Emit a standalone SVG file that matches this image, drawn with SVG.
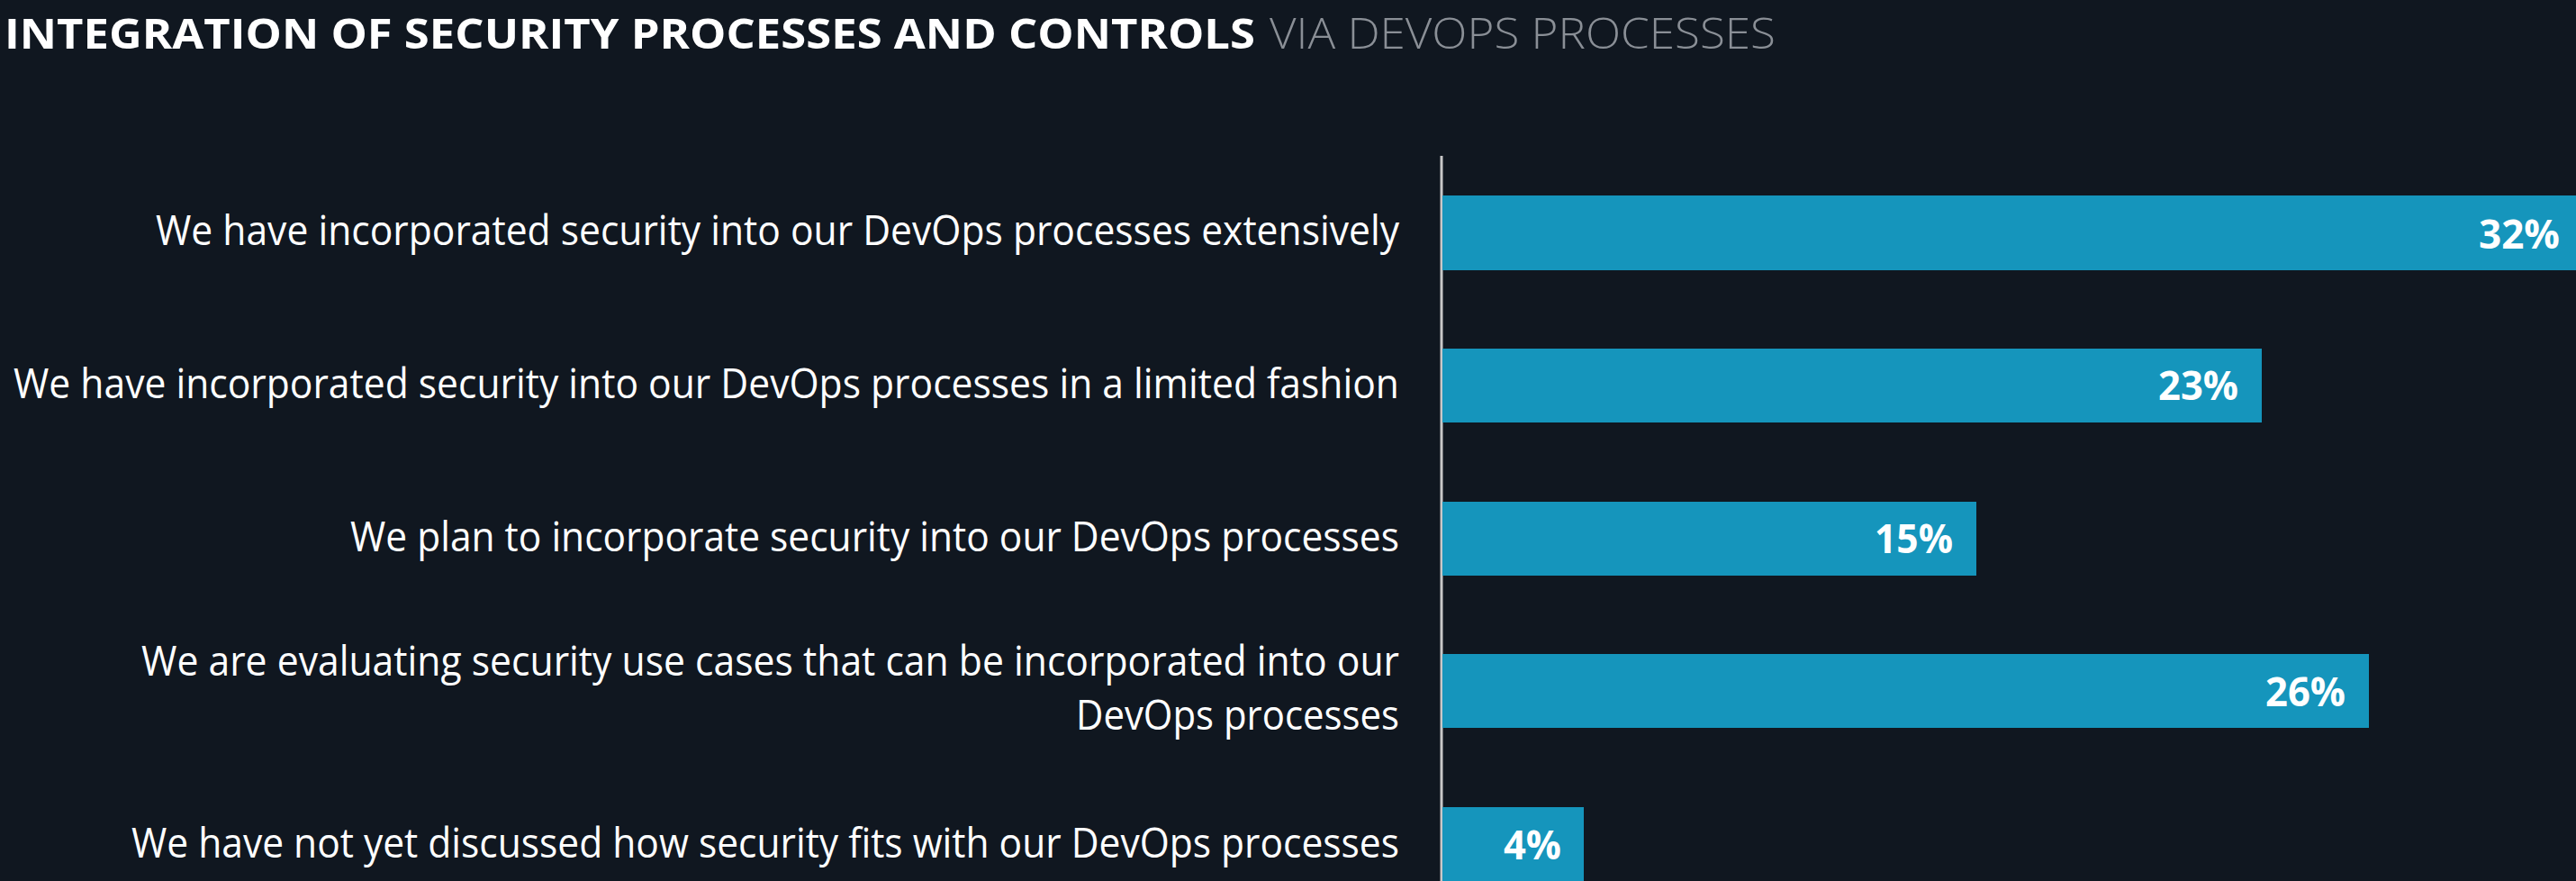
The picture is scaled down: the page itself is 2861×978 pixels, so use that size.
<svg xmlns="http://www.w3.org/2000/svg" width="2861" height="978" viewBox="0 0 2861 978">
  <style>
    .title { font-family: "Open Sans", "Noto Sans", "Liberation Sans", sans-serif; font-size: 47px; font-weight: 700; fill: #ffffff; }
    .subtitle { font-family: "Open Sans", "Noto Sans", "Liberation Sans", sans-serif; font-size: 47px; font-weight: 300; fill: #8a8f96; }
    .cat { font-family: "Open Sans", "Noto Sans", "Liberation Sans", sans-serif; font-size: 46px; font-weight: 400; fill: #ffffff; text-anchor: end; }
    .val { font-family: "Open Sans", "Noto Sans", "Liberation Sans", sans-serif; font-size: 44px; font-weight: 700; fill: #ffffff; text-anchor: end; }
    .bar { fill: #1595bc; }
    .axis { stroke: #c8c8c8; stroke-width: 3; }
  </style>
  <rect x="0" y="0" width="2861" height="978" fill="#101720"/>

  <!-- heading -->
  <g id="heading">
    <text class="title" x="5" y="54" textLength="1389" lengthAdjust="spacingAndGlyphs">INTEGRATION OF SECURITY PROCESSES AND CONTROLS</text>
    <text class="subtitle" x="1410" y="54" textLength="562" lengthAdjust="spacingAndGlyphs">VIA DEVOPS PROCESSES</text>
  </g>

  <!-- category axis -->
  <g id="axis">
    <line class="axis" x1="1601" y1="173" x2="1601" y2="978"/>
  </g>

  <g id="row-extensive">
    <text class="cat" x="1554" y="272" textLength="1381" lengthAdjust="spacingAndGlyphs">We have incorporated security into our DevOps processes extensively</text>
    <rect class="bar" x="1602" y="217" width="1267" height="83"/>
    <text class="val" x="2843" y="276" textLength="90" lengthAdjust="spacingAndGlyphs">32%</text>
  </g>

  <g id="row-limited">
    <text class="cat" x="1554" y="442" textLength="1539" lengthAdjust="spacingAndGlyphs">We have incorporated security into our DevOps processes in a limited fashion</text>
    <rect class="bar" x="1602" y="387" width="910" height="82"/>
    <text class="val" x="2486" y="444" textLength="89" lengthAdjust="spacingAndGlyphs">23%</text>
  </g>

  <g id="row-plan">
    <text class="cat" x="1554" y="612" textLength="1165" lengthAdjust="spacingAndGlyphs">We plan to incorporate security into our DevOps processes</text>
    <rect class="bar" x="1602" y="557" width="593" height="82"/>
    <text class="val" x="2169" y="614" textLength="87" lengthAdjust="spacingAndGlyphs">15%</text>
  </g>

  <g id="row-evaluating">
    <text class="cat" x="1554" y="750" textLength="1397" lengthAdjust="spacingAndGlyphs">We are evaluating security use cases that can be incorporated into our</text>
    <text class="cat" x="1554" y="810" textLength="359" lengthAdjust="spacingAndGlyphs">DevOps processes</text>
    <rect class="bar" x="1602" y="726" width="1029" height="82"/>
    <text class="val" x="2605" y="784" textLength="89" lengthAdjust="spacingAndGlyphs">26%</text>
  </g>

  <g id="row-not-discussed">
    <text class="cat" x="1554" y="952" textLength="1408" lengthAdjust="spacingAndGlyphs">We have not yet discussed how security fits with our DevOps processes</text>
    <rect class="bar" x="1602" y="896" width="157" height="82"/>
    <text class="val" x="1734" y="954" textLength="64" lengthAdjust="spacingAndGlyphs">4%</text>
  </g>
</svg>
